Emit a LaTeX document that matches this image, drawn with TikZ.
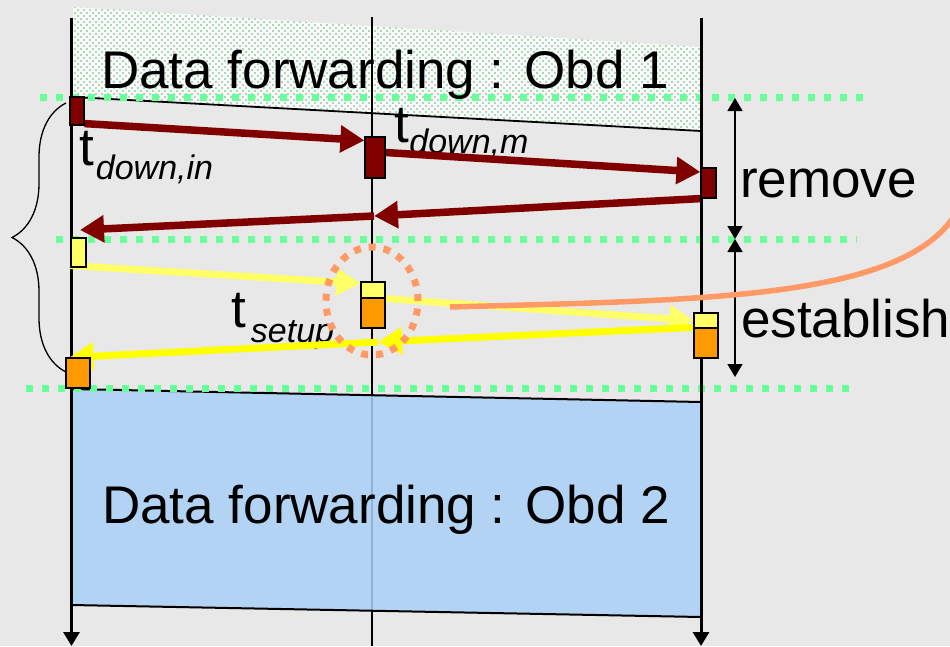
\documentclass[tikz,border=0pt]{standalone}
\usepackage{fontspec}
\setmainfont{Liberation Sans}
\usetikzlibrary{arrows.meta,patterns,decorations.pathreplacing}

\definecolor{bggray}{HTML}{E8E8E8}
\definecolor{rmred}{HTML}{800000}
\definecolor{fwdyellow}{HTML}{FFFF66}
\definecolor{retyellow}{HTML}{FFFF00}
\definecolor{setorange}{HTML}{FF9900}
\definecolor{markorange}{HTML}{FF9966}
\definecolor{sepgreen}{HTML}{66FF99}
\definecolor{dotgreen}{HTML}{5CB870}
\definecolor{obdblue}{HTML}{A9D0F5}

\pgfdeclarelayer{front}
\pgfsetlayers{main,front}

\pgfdeclarepatternformonly{obddots}{\pgfqpoint{-1pt}{-1pt}}{\pgfqpoint{5pt}{5pt}}{\pgfqpoint{6pt}{6pt}}{%
  \pgfpathcircle{\pgfqpoint{0pt}{0pt}}{0.8pt}%
  \pgfpathcircle{\pgfqpoint{3pt}{3pt}}{0.8pt}%
  \pgfusepath{fill}}

\newcommand{\subtxt}[2]{\raisebox{-#1}{\fontsize{34}{34}\selectfont\itshape #2}}

\tikzset{
  lifeline/.style={line width=3pt},
  sepline/.style={sepgreen,line width=7pt,dash pattern=on 7pt off 9pt},
  rmarrow/.style={rmred,line width=7.5pt,-{Triangle[length=24pt,width=26pt]}},
  fwdarrow/.style={fwdyellow,line width=7pt,-{Triangle[length=24pt,width=26pt]}},
  retarrow/.style={retyellow,line width=7pt,-{Triangle[length=24pt,width=26pt]}},
  phasearrow/.style={line width=1.5pt,{Triangle[length=13pt,width=15pt]}-{Triangle[length=13pt,width=15pt]}},
  bigtext/.style={font=\fontsize{53}{60}\selectfont,inner sep=0pt}
}

\begin{document}
\begin{tikzpicture}[x=1pt,y=-1pt]
  \useasboundingbox[fill=bggray] (0,0) rectangle (950,646);

  % old and new data forwarding
  \fill[white!80!bggray] (73,7) -- (701,47) -- (701,131) -- (73,97) -- cycle;
  \fill[pattern=obddots,pattern color=dotgreen] (73,7) -- (701,47) -- (701,131) -- (73,97) -- cycle;
  \draw[line width=1.8pt] (73,97) -- (701,131);
  \draw[line width=1.2pt] (372,17) -- (372,646);
  \filldraw[fill=obdblue,fill opacity=0.85,line width=2pt] (71.5,389) -- (701,402) -- (701,617) -- (71.5,605) -- cycle;

  \draw[sepline] (40,97) -- (864,97);
  \draw[sepline] (56,239) -- (857,239);
  \draw[sepline] (26,388) -- (849,388);

  \coordinate (intop) at (71.5,18);
  \coordinate (inbot) at (71.5,646);
  \coordinate (outtop) at (701,18);
  \coordinate (outbot) at (701,646);
  \draw[lifeline,-{Triangle[length=14pt,width=16pt]}] (intop) -- (inbot);
  \draw[lifeline,-{Triangle[length=14pt,width=16pt]}] (outtop) -- (outbot);

  \node[bigtext,anchor=base] (obd1) at (385,88) {Data forwarding : Obd 1};
  \node[bigtext,anchor=base] (obd2) at (386,523) {Data forwarding : Obd 2};
  \node[bigtext,anchor=base west] (remove) at (740,197) {remove};
  \node[bigtext,anchor=base west] (establish) at (741,337) {establish};
  \node[bigtext,anchor=base west] (tdownin) at (79,165) {t\kern2pt\subtxt{14pt}{down,in}};
  \node[bigtext,anchor=base west] (tdownm) at (394,142) {t\kern0.5pt\subtxt{11pt}{down,m}};
  \node[bigtext,anchor=base west] (tsetup) at (231,327) {t\kern5pt\subtxt{15pt}{setup}};

  \begin{pgfonlayer}{front}
  \begin{scope}[every node/.style={rectangle,draw,line width=1.2pt,inner sep=0pt}]
    \node[fill=rmred,minimum width=14pt,minimum height=28pt] (downin) at (77,111) {};
    \node[fill=rmred,minimum width=20pt,minimum height=41pt] (downm) at (375,157.5) {};
    \node[fill=rmred,minimum width=15pt,minimum height=30pt] (downout) at (708.5,183) {};
    \node[fill=fwdyellow,minimum width=15pt,minimum height=29pt] (setin) at (78.5,252.5) {};
    \node[fill=fwdyellow,minimum width=24pt,minimum height=16pt] (setmy) at (373,290) {};
    \node[fill=setorange,minimum width=24pt,minimum height=30pt] (setmo) at (373,313) {};
    \node[fill=fwdyellow,minimum width=24pt,minimum height=15pt] (setoy) at (706,320.5) {};
    \node[fill=setorange,minimum width=24pt,minimum height=30pt] (setoo) at (706,343) {};
    \node[fill=setorange,minimum width=24pt,minimum height=30pt] (setdone) at (78,373) {};
  \end{scope}
  \end{pgfonlayer}

  \coordinate (rmmid) at (374,216);
  \coordinate (rmend) at (80,230);
  \coordinate (setmid) at (378,342);

  % remove
  \draw[rmarrow] ([yshift=2pt]downin.south east) -- ([yshift=-4pt]downm.north west);
  \draw[rmarrow] ([yshift=5pt]downm.east) -- ([yshift=11pt]downout.west);
  \draw[rmarrow] (downout.south west) -- (rmmid);
  \draw[rmarrow] (rmmid) -- (rmend);

  % establish
  \draw[fwdarrow] ([yshift=2pt]setin.south west) -- ([yshift=-2pt]setmy.north west);
  \draw[fwdarrow] (setmy.south east) -- (setoy.west);
  \draw[retarrow] (setoo.north west) -- (setmid);
  \draw[retarrow] (setmid) -- ([xshift=4pt]setdone.north west);

  \begin{pgfonlayer}{front}
  \draw[markorange,line width=7pt,dash pattern=on 7pt off 8pt] (372,301) ellipse [x radius=46pt,y radius=54pt];
  \coordinate (markstart) at (450,307);
  \coordinate (markend) at (955,215);
  \draw[markorange,line width=5.5pt] (markstart) .. controls (700,300) and (900,300) .. (markend);
  \end{pgfonlayer}

  \draw[phasearrow] (735,98) -- (735,239);
  \draw[phasearrow] (735,239) -- (735,377);
  \draw[decorate,decoration={brace,amplitude=54pt},line width=1.3pt] (66,372) -- (66,103);
\end{tikzpicture}
\end{document}
